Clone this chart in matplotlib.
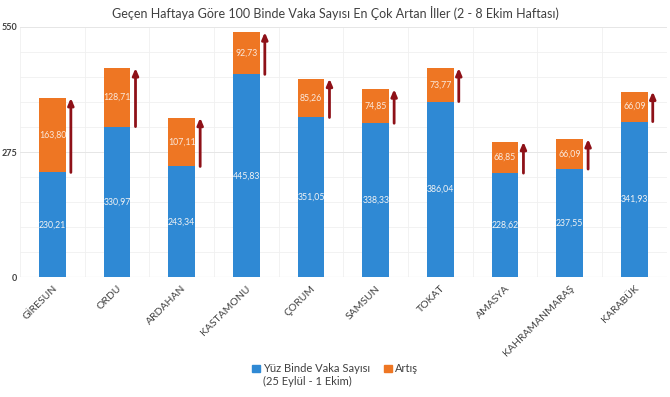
import numpy as np
import matplotlib
matplotlib.use("Agg")
import matplotlib.pyplot as plt
from matplotlib.patches import Patch

plt.rcParams['font.family'] = ['Lato', 'DejaVu Sans']

iller  = ["GİRESUN", "ORDU", "ARDAHAN", "KASTAMONU", "ÇORUM",
          "SAMSUN", "TOKAT", "AMASYA", "KAHRAMANMARAŞ", "KARABÜK"]
onceki = [230.21, 330.97, 243.34, 445.83, 351.05, 338.33, 386.04, 228.62, 237.55, 341.93]
artis  = [163.80, 128.71, 107.11, 92.73, 85.26, 74.85, 73.77, 68.85, 66.09, 66.09]
y_ticks = [0, 275, 550]

BLUE, ORANGE, ARROW = "#2F89D4", "#EE7623", "#8E1118"
TXT = "#404040"

fig = plt.figure(figsize=(6.7, 3.97), dpi=100)
ax = fig.add_axes([0.03, 0.302, 0.965, 0.630])

x = np.arange(len(iller))
onceki_a, artis_a = np.array(onceki), np.array(artis)
w = 0.41
ax.bar(x, onceki_a, w, color=BLUE, zorder=3)
ax.bar(x, artis_a, w, bottom=onceki_a, color=ORANGE, zorder=3)

fmt = lambda v: f"{v:.2f}".replace(".", ",")
for xi, b, a in zip(x, onceki_a, artis_a):
    ax.text(xi, b / 2, fmt(b), ha="center", va="center", color="#f4f4f4", fontsize=6.3, zorder=4)
    ax.text(xi, b + a / 2, fmt(a), ha="center", va="center", color="#fbe9dc", fontsize=6.3, zorder=4)
    ax.annotate("", xy=(xi + 0.285, b + a), xytext=(xi + 0.285, b),
                arrowprops=dict(arrowstyle="-|>,head_width=0.17,head_length=0.4",
                                color=ARROW, lw=2.0, shrinkA=0, shrinkB=0), zorder=5)

ax.set_xlim(-0.5, len(iller) - 0.5)
ax.set_ylim(0, 550)
ax.set_yticks(y_ticks)
ax.set_yticklabels([str(t) for t in y_ticks], fontsize=6.5, color=TXT, fontweight="bold")
ax.set_yticks(np.arange(0, 551, 55), minor=True)
ax.set_xticks(np.arange(-0.5, len(iller), 0.5), minor=True)
ax.set_xticks(x)
ax.set_xticklabels(iller, rotation=45, ha="right", rotation_mode="anchor", fontsize=7.5, color=TXT)
ax.tick_params(axis="both", which="both", length=0)
ax.tick_params(axis="y", pad=2)
ax.tick_params(axis="x", pad=5)
ax.grid(which="minor", color="#f0f0f0", lw=0.6, zorder=0)
ax.grid(which="major", axis="y", color="#e6e6e6", lw=0.7, zorder=0)
for s in ax.spines.values():
    s.set_visible(False)
ax.axhline(0, color="#d9d9d9", lw=0.8, zorder=2)

fig.text(0.5, 0.968, "Geçen Haftaya Göre 100 Binde Vaka Sayısı En Çok Artan İller (2 - 8 Ekim Haftası)",
         ha="center", va="center", fontsize=9, color=TXT)

blank = Patch(facecolor="none", edgecolor="none")
handles = [Patch(color=BLUE), blank, Patch(color=ORANGE), blank]
labels = ["Yüz Binde Vaka Sayısı", "(25 Eylül - 1 Ekim)", "Artış", ""]
fig.legend(handles, labels, ncol=2, loc="center", bbox_to_anchor=(0.5, 0.055),
           frameon=False, fontsize=8, handlelength=0.7, handleheight=0.7,
           handletextpad=0.3, columnspacing=1.2, labelspacing=0.15, labelcolor=TXT)

fig.savefig("out.png", dpi=100)
